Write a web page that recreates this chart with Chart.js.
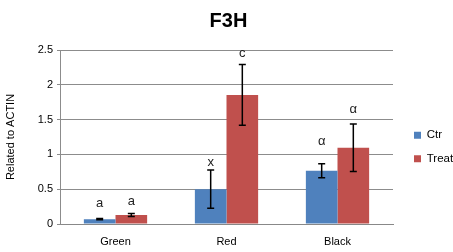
<!DOCTYPE html>
<html>
<head>
<meta charset="utf-8">
<script src="https://cdn.jsdelivr.net/npm/chart.js@4"></script>
<style>
  html, body { margin: 0; padding: 0; background: #fff; }
  #wrap { width: 453px; height: 252px; }
</style>
</head>
<body>
<div id="wrap"><canvas id="chart"></canvas></div>
<script>
// chart data
const categories = ['Green', 'Red', 'Black'];
const ctrValues = [0.07, 0.5, 0.765];
const treatValues = [0.13, 1.855, 1.095];
const ctrErrors = [0.01, 0.275, 0.1];
const treatErrors = [0.022, 0.435, 0.34];
const ctrLetters = ['a', 'x', 'α'];
const treatLetters = ['a', 'c', 'α'];
const ctrLetterAt = [0.29, 0.88, 1.18];
const treatLetterAt = [0.33, 2.455, 1.64];

const FONT = '"Liberation Sans", "DejaVu Sans", sans-serif';

// error bars + significance letters drawn from the bar scales
const annotations = {
    id: 'annotations',
    afterDatasetsDraw(chart) {
        const ctx = chart.ctx;
        const y = chart.scales.y;
        const sets = [
            { errors: ctrErrors, letters: ctrLetters, at: ctrLetterAt },
            { errors: treatErrors, letters: treatLetters, at: treatLetterAt }
        ];
        ctx.save();
        sets.forEach((s, di) => {
            const meta = chart.getDatasetMeta(di);
            const values = chart.data.datasets[di].data;
            meta.data.forEach((bar, i) => {
                const x = bar.x;
                const top = y.getPixelForValue(values[i] + s.errors[i]);
                const bottom = y.getPixelForValue(values[i] - s.errors[i]);
                ctx.strokeStyle = '#000';
                ctx.lineWidth = 1.5;
                ctx.beginPath();
                ctx.moveTo(x, top);
                ctx.lineTo(x, bottom);
                ctx.moveTo(x - 3.5, top);
                ctx.lineTo(x + 3.5, top);
                ctx.moveTo(x - 3.5, bottom);
                ctx.lineTo(x + 3.5, bottom);
                ctx.stroke();

                ctx.fillStyle = '#222';
                ctx.font = '13px ' + FONT;
                ctx.textAlign = 'center';
                ctx.textBaseline = 'middle';
                ctx.fillText(s.letters[i], x, y.getPixelForValue(s.at[i]));
            });
        });
        ctx.restore();
    }
};

// keep the legend column narrow and nudge it to where the reference has it
const legendPlace = {
    id: 'legendPlace',
    beforeLayout(chart) {
        const legend = chart.legend;
        if (!legend || legend._placed) {
            return;
        }
        legend._placed = true;
        const fit = legend.fit.bind(legend);
        legend.fit = function () {
            fit();
            this.width = 60;
        };
        const draw = legend.draw.bind(legend);
        legend.draw = function () {
            const ctx = this.ctx;
            ctx.save();
            ctx.translate(9, 19);
            draw();
            ctx.restore();
        };
    }
};

new Chart(document.getElementById('chart'), {
    type: 'bar',
    data: {
        labels: categories,
        datasets: [
            {
                label: 'Ctr',
                data: ctrValues,
                backgroundColor: '#4F81BD',
                categoryPercentage: 0.57,
                barPercentage: 1.0
            },
            {
                label: 'Treat',
                data: treatValues,
                backgroundColor: '#C0504D',
                categoryPercentage: 0.57,
                barPercentage: 1.0
            }
        ]
    },
    options: {
        responsive: true,
        maintainAspectRatio: false,
        animation: false,
        layout: {
            padding: { top: 6, right: 0, bottom: 2, left: 4 }
        },
        scales: {
            x: {
                grid: { display: false, drawTicks: false },
                border: { color: '#888', width: 1 },
                ticks: { color: '#000', font: { family: FONT, size: 11 }, padding: 11 },
                afterFit(scale) { scale.height = 26; }
            },
            y: {
                min: 0,
                max: 2.5,
                ticks: {
                    stepSize: 0.5,
                    color: '#000',
                    font: { family: FONT, size: 11 },
                    padding: 4,
                    callback: v => String(v)
                },
                grid: { color: '#8c8c8c', lineWidth: 1, tickLength: 3 },
                border: { color: '#8c8c8c', width: 1 },
                title: {
                    display: true,
                    text: 'Related to ACTIN',
                    color: '#000',
                    font: { family: FONT, size: 11 },
                    padding: { top: 0, bottom: 4 }
                },
                afterFit(scale) { scale.width = 56; }
            }
        },
        plugins: {
            title: {
                display: true,
                text: 'F3H',
                color: '#000',
                font: { family: FONT, size: 20, weight: 'bold' },
                padding: { top: 3, bottom: 17 }
            },
            legend: {
                position: 'right',
                labels: {
                    boxWidth: 7,
                    boxHeight: 7,
                    padding: 12,
                    color: '#000',
                    font: { family: FONT, size: 11.5 }
                }
            },
            tooltip: { enabled: false }
        }
    },
    plugins: [annotations, legendPlace]
});
</script>
</body>
</html>
